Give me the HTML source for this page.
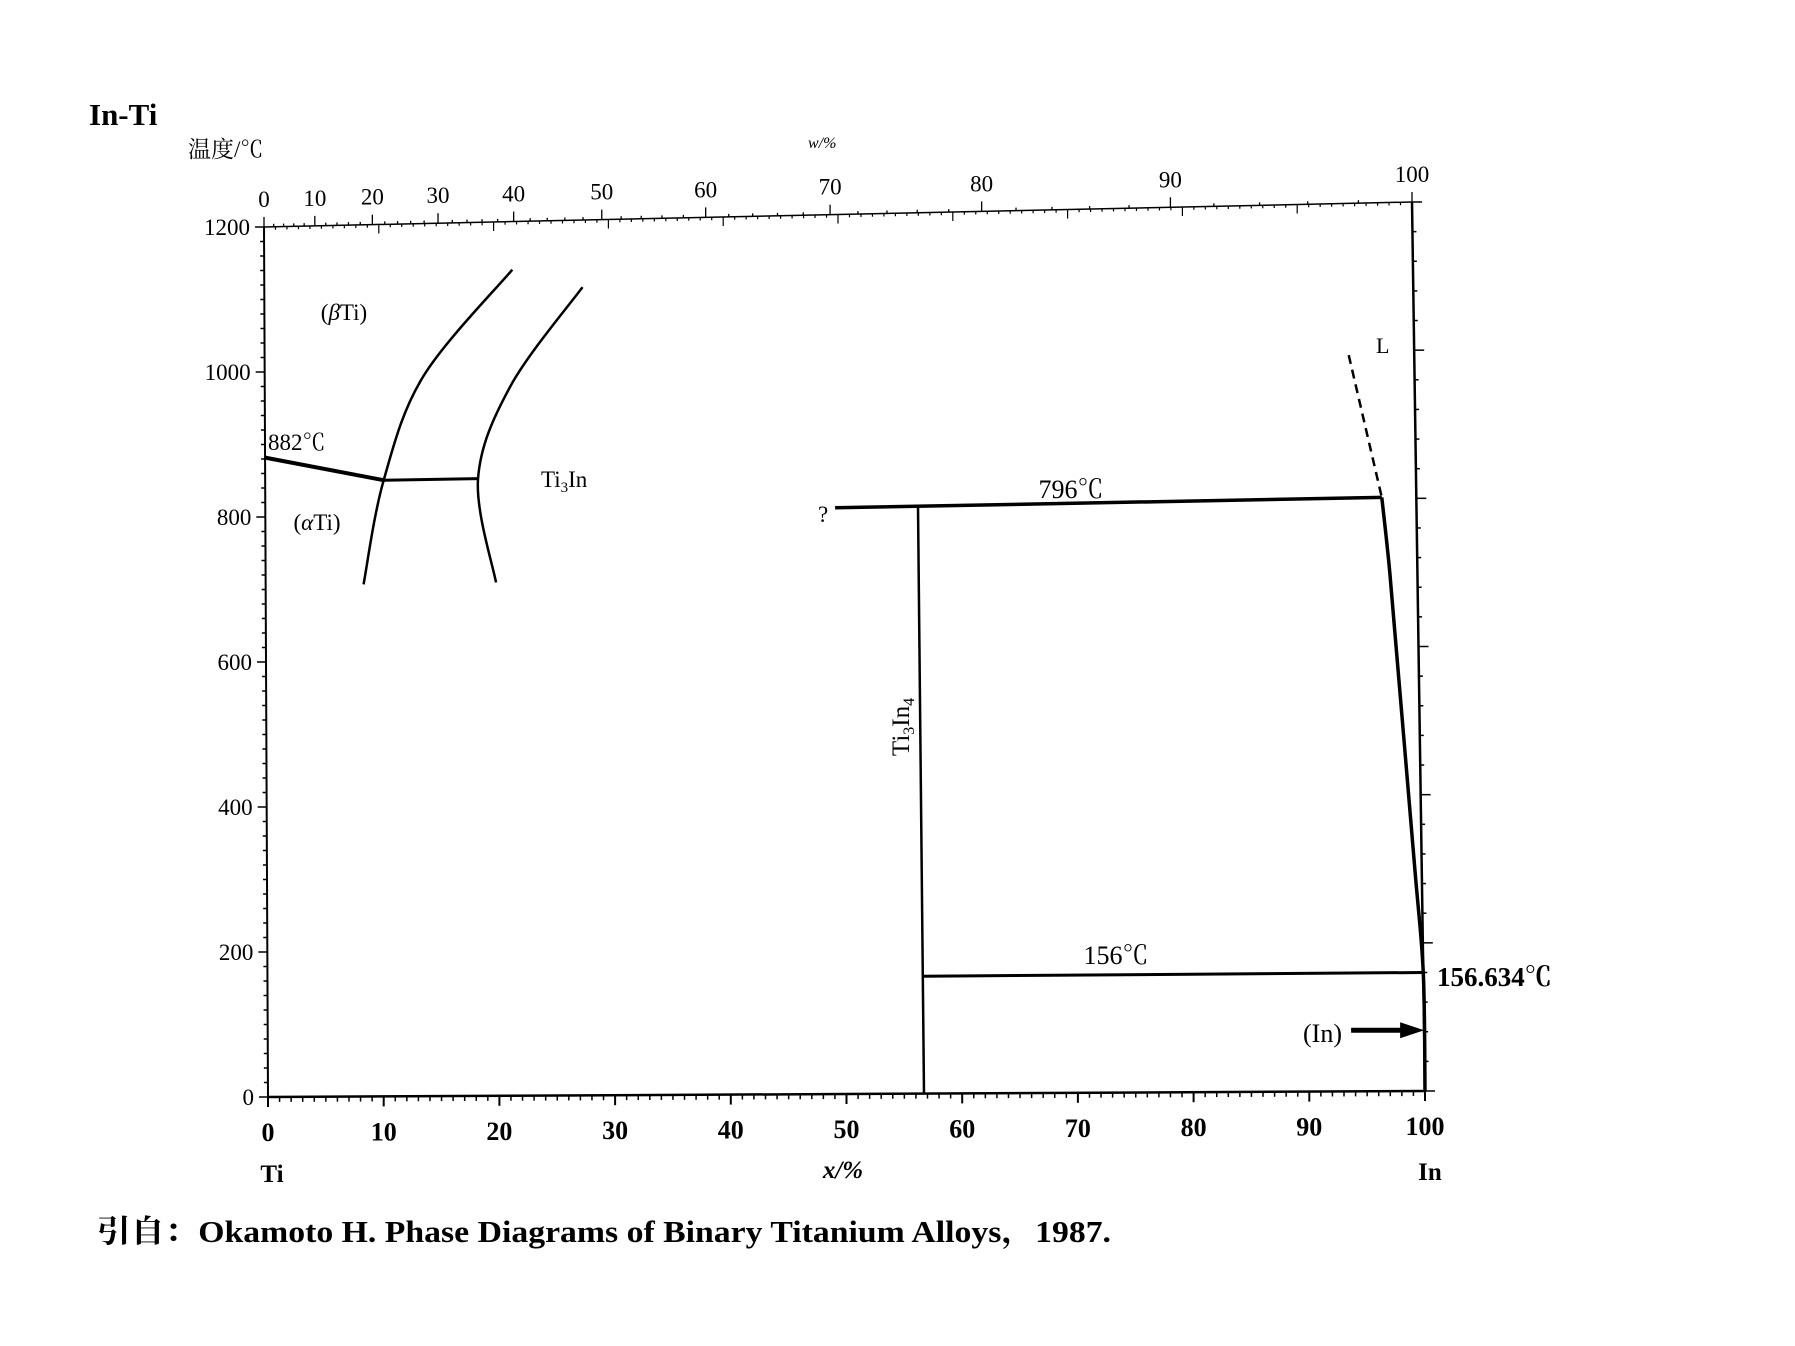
<!DOCTYPE html>
<html><head><meta charset="utf-8"><style>
html,body{margin:0;padding:0;background:#fff;}
svg{display:block;font-family:"Liberation Serif","Noto Serif CJK SC",serif;}
</style></head><body>
<svg id="chart" width="1795" height="1346" viewBox="0 0 1795 1346">
<g id="axes"></g>
<g id="marks"></g>
<g id="labels">
<text x="89" y="125" font-size="31" font-weight="bold">In-Ti</text>
<text x="188" y="157" font-size="23">温度/℃</text>
<text x="808" y="148" font-size="16" font-style="italic">w/%</text>
<text x="272" y="1182" font-size="25" font-weight="bold" text-anchor="middle">Ti</text>
<text x="843" y="1178" font-size="25" font-style="italic" font-weight="bold" text-anchor="middle">x/%</text>
<text x="1430" y="1180" font-size="25" font-weight="bold" text-anchor="middle">In</text>
<text x="97" y="1242" font-size="31" font-weight="bold" textLength="1014" lengthAdjust="spacingAndGlyphs">引自：Okamoto H. Phase Diagrams of Binary Titanium Alloys，1987.</text>
<text x="344" y="320" font-size="23" text-anchor="middle">(<tspan font-style="italic">β</tspan>Ti)</text>
<text x="317" y="530" font-size="23" text-anchor="middle">(<tspan font-style="italic">α</tspan>Ti)</text>
<text x="268" y="450" font-size="23">882℃</text>
<text x="541" y="487" font-size="23">Ti<tspan font-size="15" dy="5">3</tspan><tspan dy="-5">In</tspan></text>
<text x="818" y="522" font-size="23">?</text>
<text x="1071" y="498" font-size="26" text-anchor="middle">796℃</text>
<text transform="translate(909,727) rotate(-90)" font-size="25" text-anchor="middle">Ti<tspan font-size="16" dy="5">3</tspan><tspan dy="-5">In</tspan><tspan font-size="16" dy="5">4</tspan></text>
<text x="1116" y="964" font-size="26" text-anchor="middle">156℃</text>
<text x="1437" y="986" font-size="27" font-weight="bold">156.634℃</text>
<text x="1303" y="1042" font-size="26">(In)</text>
<text x="1376" y="353" font-size="22">L</text>
</g>
</svg>
<script>
// data
const xTicks = [0,10,20,30,40,50,60,70,80,90,100];
const yTicks = [0,200,400,600,800,1000,1200];
const wtTicks = [0,10,20,30,40,50,60,70,80,90,100];
const alphaBetaBoundary = [[8.5,705],[10.3,848],[13.8,990],[21.6,1134]];
const betaTi3InBoundary = [[20,705],[18.5,848],[21.4,975],[27.7,1108]];
const alphaTransus = [[0,882],[10.3,848]];
const eutectoid = [[10.3,848],[18.5,848]];
const peritectic = [[49.5,800],[97,802]];
const ti3in4Line = [[56.7,800],[56.7,0]];
const eutecticLine = [[56.7,160],[100,160]];
const liquidus = [[97,802],[97.6,701],[98.3,546],[99.4,300],[100,160],[100,0]];
const liquidusDashed = [[94.3,995],[97,802]];
const inArrowT = 82;

// frame corners (skewed scan)
const TL=[264,227],TR=[1412,202],BL=[268,1097],BR=[1425,1091];
function P(v,T){const u=v/100,w=T/1200;
 const bx=BL[0]+(BR[0]-BL[0])*u, by=BL[1]+(BR[1]-BL[1])*u;
 const tx=TL[0]+(TR[0]-TL[0])*u, ty=TL[1]+(TR[1]-TL[1])*u;
 return [bx+(tx-bx)*w, by+(ty-by)*w];}
function wt2at(w){if(w>=100)return 100;const a=w/114.82,b=(100-w)/47.867;return 100*a/(a+b);}
const NS="http://www.w3.org/2000/svg";
const axes=document.getElementById('axes'), marks=document.getElementById('marks');
function line(g,a,b,sw,name){const l=document.createElementNS(NS,'line');
 l.setAttribute('x1',a[0]);l.setAttribute('y1',a[1]);l.setAttribute('x2',b[0]);l.setAttribute('y2',b[1]);
 l.setAttribute('stroke','#000');l.setAttribute('stroke-width',sw);
 
 
 g.appendChild(l);return l;}
function text(g,x,y,s,size,anchor,name,bold){const t=document.createElementNS(NS,'text');
 t.setAttribute('x',x);t.setAttribute('y',y);t.setAttribute('font-size',size);t.setAttribute('text-anchor',anchor);
 if(bold)t.setAttribute('font-weight','bold');t.textContent=s;
 
 
 g.appendChild(t);}
// frame
line(axes,P(0,0),P(100,0),2.5,'x-axis-line');
line(axes,P(0,0),P(0,1200),2,'y-axis-line');
line(axes,P(100,0),P(100,1200),2.5,'right-axis-line');
line(axes,P(0,1200),P(100,1200),1.5,'top-axis-line');
for(let v=0;v<=100;v++){const p=P(v,0);const major=v%10===0;
 line(axes,p,[p[0],p[1]+(major?10:5)],major?2:1.5,'x-tick');}
xTicks.forEach(v=>{const p=P(v,0);text(axes,p[0],p[1]+44,String(v),26,'middle','x-tick-label',true);});
for(let T=0;T<=1200;T+=20){const p=P(0,T);const major=T%200===0;
 line(axes,[p[0]-(major?9:4),p[1]],p,1.5,'y-tick');}
yTicks.forEach(T=>{const p=P(0,T);text(axes,p[0]-14,p[1]+8,String(T),23,'end','y-tick-label',false);});
for(let T=0;T<=1200;T+=40){const p=P(100,T);const major=T%200===0;
 line(axes,p,[p[0]+(major?10:4),p[1]],1.5,'right-tick');}
for(let v=0;v<=100;v++){const p=P(v,1200);const major=v%10===0;
 line(axes,p,[p[0],p[1]+(major?9:3)],1.2,'top-at-tick');}
for(let w=0;w<=100;w+=2){const p=P(wt2at(w),1200);const major=w%10===0;
 line(axes,[p[0],p[1]-(major?10:3)],p,1.3,'top-wt-tick');}
wtTicks.forEach(w=>{const p=P(wt2at(w),1200);text(axes,p[0],p[1]-20,String(w),23,'middle','top-tick-label',false);});
function poly(pts,sw,name,dash){const d=pts.map((q,i)=>{const p=P(q[0],q[1]);return (i?'L':'M')+p[0].toFixed(1)+','+p[1].toFixed(1);}).join(' ');
 const e=document.createElementNS(NS,'path');e.setAttribute('d',d);e.setAttribute('fill','none');e.setAttribute('stroke','#000');
 e.setAttribute('stroke-width',sw);e.setAttribute('stroke-linejoin','round');if(dash)e.setAttribute('stroke-dasharray',dash);
 
 
 marks.appendChild(e);}
function smooth(pts,sw,name){const p=pts.map(q=>P(q[0],q[1]));let d='M'+p[0][0]+','+p[0][1];
 for(let i=0;i<p.length-1;i++){const p0=p[Math.max(0,i-1)],p1=p[i],p2=p[i+1],p3=p[Math.min(p.length-1,i+2)];
  d+=' C'+(p1[0]+(p2[0]-p0[0])/6)+','+(p1[1]+(p2[1]-p0[1])/6)+' '+(p2[0]-(p3[0]-p1[0])/6)+','+(p2[1]-(p3[1]-p1[1])/6)+' '+p2[0]+','+p2[1];}
 const e=document.createElementNS(NS,'path');e.setAttribute('d',d);e.setAttribute('fill','none');e.setAttribute('stroke','#000');e.setAttribute('stroke-width',sw);
 
 
 marks.appendChild(e);}
smooth(alphaBetaBoundary,2.5,'alpha-beta-boundary');
smooth(betaTi3InBoundary,2.5,'beta-ti3in-boundary');
poly(alphaTransus,4,'alpha-transus-line');
poly(eutectoid,3,'eutectoid-line');
poly(peritectic,3.5,'peritectic-796-line');
poly(ti3in4Line,2.5,'ti3in4-line');
poly(eutecticLine,3,'eutectic-156-line');
smooth(liquidus,3.5,'liquidus-line');
poly(liquidusDashed,2.5,'liquidus-dashed','9,6');
const a=P(100,inArrowT);
line(marks,[a[0]-73,a[1]],[a[0]-18,a[1]],5,'in-arrow-shaft');
const tri=document.createElementNS(NS,'polygon');
tri.setAttribute('points',(a[0]-24)+','+(a[1]-8)+' '+a[0]+','+a[1]+' '+(a[0]-24)+','+(a[1]+8));


marks.appendChild(tri);
</script>
</body></html>
